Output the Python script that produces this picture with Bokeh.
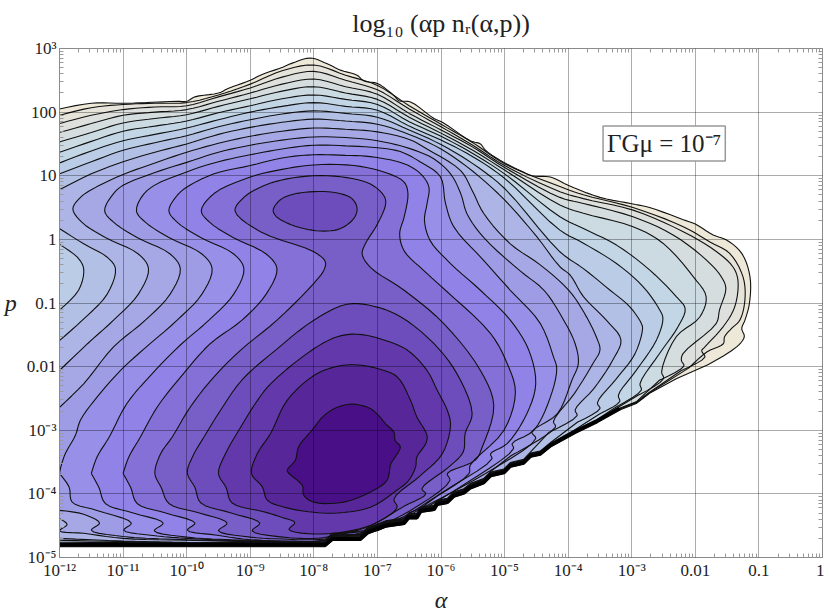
from bokeh.embed import file_html
from bokeh.models import FixedTicker, Label, LogAxis
from bokeh.plotting import figure
from bokeh.resources import INLINE

# Contours: pairs of (log10 alpha, log10 p)
C00 = [(-12,2.05),(-11.5,2.14),(-11,2.14),(-10.14,2.17),(-10,2.17),(-9.87,2.24),(-9.5,2.30),(-9.33,2.38),(-9,2.50),(-8.84,2.58),(-8.48,2.71),(-8.34,2.77),(-8.05,2.85),(-7.79,2.76),(-7.58,2.66),(-7.32,2.58),(-7.21,2.49),(-7,2.45),(-6.74,2.26),(-6.66,2.18),(-6.48,2.16),(-6.11,1.90),(-5.96,1.83),(-5.54,1.55),(-5.38,1.50),(-5.30,1.40),(-5.01,1.21),(-4.75,1.08),(-4.57,1.0),(-4.28,.98),(-4,.85),(-3.5,.66),(-3,.56),(-2.72,.50),(-2.19,.31),(-2,.24),(-1.72,.07),(-1.51,-.01),(-1.27,-.22),(-1.14,-.59),(-1.15,-1.01),(-1.22,-1.27),(-1.27,-1.40),(-1.23,-1.53),(-1.35,-1.69),(-1.82,-1.98)]
C01 = [(-12,1.95),(-11.5,2.07),(-11,2.12),(-10.5,2.14),(-10,2.15),(-9.5,2.27),(-9,2.44),(-8.5,2.65),(-8,2.74),(-7.5,2.58),(-7,2.42),(-6.5,2.10),(-6,1.81),(-5.5,1.52),(-5,1.19),(-4.13,.83),(-3.76,.70),(-2.98,.50),(-2.19,.20),(-1.77,-.04),(-1.46,-.22),(-1.25,-.59),(-1.22,-.95),(-1.30,-1.27),(-1.43,-1.40),(-1.54,-1.53),(-1.56,-1.64),(-1.82,-1.77),(-2.1,-2.02)]
C02 = [(-12,1.82),(-11.5,1.95),(-11,2.04),(-10.5,2.08),(-10,2.10),(-9.5,2.24),(-9,2.38),(-8.5,2.55),(-8,2.64),(-7.5,2.50),(-7,2.35),(-6.5,2.05),(-6,1.77),(-5.5,1.48),(-5,1.16),(-4.13,.75),(-3.76,.64),(-2.98,.46),(-2.19,.12),(-1.67,-.19),(-1.41,-.43),(-1.33,-.64),(-1.38,-1.06),(-1.56,-1.37),(-1.85,-1.69),(-1.90,-1.75),(-1.85,-1.85),(-2.22,-2.06)]
C03 = [(-12,1.68),(-11.5,1.82),(-11,1.95),(-10.5,2.0),(-10,2.04),(-9.5,2.17),(-9,2.30),(-8.5,2.44),(-8,2.52),(-7.5,2.40),(-7,2.28),(-6.5,1.98),(-6,1.72),(-5.5,1.45),(-5,1.13),(-4.13,.66),(-3.76,.565),(-2.98,.355),(-2.35,.07),(-1.82,-.33),(-1.59,-.59),(-1.52,-.77),(-1.62,-1.11),(-1.67,-1.32),(-2.19,-1.79),(-2.22,-1.90),(-2.18,-1.99),(-2.56,-2.21)]
C04 = [(-12,1.53),(-11.5,1.68),(-11,1.83),(-10.5,1.90),(-10,1.96),(-9.5,2.09),(-9,2.21),(-8.5,2.33),(-8,2.40),(-7.5,2.30),(-7,2.20),(-6.5,1.92),(-6,1.67),(-5.5,1.40),(-5,1.09),(-4.13,.54),(-3.76,.41),(-2.98,.20),(-2.51,-.06),(-2.03,-.59),(-1.83,-.90),(-1.93,-1.22),(-2.30,-1.53),(-2.53,-2.08),(-2.50,-2.19),(-2.90,-2.45)]
C05 = [(-12,1.37),(-11.5,1.54),(-11,1.70),(-10.5,1.78),(-10,1.86),(-9.5,1.99),(-9,2.10),(-8.5,2.21),(-8,2.27),(-7.5,2.20),(-7,2.12),(-6.5,1.85),(-6,1.62),(-5.5,1.35),(-5,1.03),(-4.13,.355),(-3.76,.17),(-3.24,-.09),(-2.72,-.48),(-2.30,-.90),(-2.16,-1.09),(-2.27,-1.37),(-2.56,-1.79),(-2.87,-2.27),(-2.85,-2.37),(-3.24,-2.63)]
C06 = [(-12,1.20),(-11.5,1.39),(-11,1.55),(-10.5,1.65),(-10,1.75),(-9.5,1.88),(-9,2.0),(-8.5,2.09),(-8,2.15),(-7.5,2.09),(-7,2.03),(-6.5,1.78),(-6,1.56),(-5.5,1.30),(-5,.96),(-4.13,.145),(-3.76,-.06),(-3.24,-.38),(-2.82,-.745),(-2.56,-1.11),(-2.51,-1.24),(-2.61,-1.58),(-2.93,-2.06),(-3.21,-2.45),(-3.19,-2.55),(-3.5,-2.74)]
C07 = [(-12,1.03),(-11.5,1.22),(-11,1.40),(-10.5,1.52),(-10,1.63),(-9.5,1.77),(-9,1.88),(-8.5,1.97),(-8,2.02),(-7.5,1.98),(-7,1.92),(-6.5,1.72),(-6,1.49),(-5.5,1.19),(-5,.80),(-4.13,-.195),(-3.76,-.46),(-3.34,-.80),(-3.03,-1.06),(-2.85,-1.32),(-2.83,-1.40),(-2.95,-1.8),(-3.25,-2.2),(-3.54,-2.57),(-3.5,-2.66),(-3.85,-2.87)]
C08 = [(-12,.78),(-11.5,1.03),(-11,1.22),(-10.5,1.37),(-10,1.50),(-9.5,1.65),(-9,1.76),(-8.5,1.84),(-8,1.89),(-7.5,1.86),(-7,1.81),(-6.5,1.65),(-6,1.42),(-5.5,1.07),(-5,.62),(-4.5,.05),(-4.13,-.43),(-3.97,-.56),(-3.76,-.9),(-3.40,-1.27),(-3.17,-1.58),(-3.3,-1.9),(-3.6,-2.35),(-3.89,-2.68),(-3.86,-2.77),(-4.3,-3.03)]
C09 = [(-12,-2.06),(-11.56,-1.64),(-11.15,-1.27),(-10.76,-.86),(-10.60,-.46),(-10.76,-.23),(-11.28,.03),(-11.65,.27),(-11.79,.48),(-11.67,.66),(-11.5,.78),(-11,1.02),(-10.5,1.2),(-10,1.37),(-9.5,1.51),(-9,1.62),(-8.5,1.70),(-8,1.75),(-7.5,1.73),(-7,1.69),(-6.5,1.57),(-6.22,1.42),(-5.69,1.08),(-5.51,.77),(-5.33,.41),(-4.91,-.07),(-4.44,-.40),(-3.99,-.80),(-3.75,-1.15),(-3.55,-1.55),(-3.50,-1.74),(-3.61,-1.95),(-3.9,-2.42),(-4.23,-2.86),(-4.2,-2.95),(-4.9,-3.4)]
C10 = [(-12,-2.64),(-11.62,-2.27),(-11.15,-1.69),(-10.65,-1.27),(-10.26,-.86),(-10.10,-.46),(-10.26,-.23),(-10.78,.03),(-11.15,.27),(-11.29,.45),(-11.15,.72),(-11,.85),(-10.5,1.05),(-10,1.21),(-9.5,1.37),(-9,1.48),(-8.5,1.56),(-8,1.61),(-7.5,1.60),(-7,1.55),(-6.5,1.43),(-6.12,1.27),(-5.85,1.03),(-5.69,.72),(-5.59,.40),(-5.33,.03),(-4.75,-.50),(-4.38,-.80),(-4.07,-1.27),(-3.89,-1.64),(-3.84,-1.95),(-3.94,-2.21),(-4.17,-2.74),(-4.57,-3.03),(-4.51,-3.13),(-5.3,-3.68),(-6.2,-4.17)]
C11 = [(-12,-3.68),(-11.98,-3.58),(-11.91,-3.37),(-11.75,-3.08),(-11.67,-2.84),(-11.41,-2.48),(-11.04,-2.06),(-10.67,-1.72),(-10.15,-1.27),(-9.76,-.86),(-9.60,-.46),(-9.76,-.23),(-10.28,.03),(-10.65,.27),(-10.79,.45),(-10.62,.77),(-10,1.06),(-9.5,1.22),(-9,1.33),(-8.5,1.42),(-8,1.48),(-7.5,1.47),(-7,1.44),(-6.64,1.38),(-6.33,1.22),(-6.01,.985),(-5.93,.57),(-5.80,.20),(-5.33,-.33),(-4.91,-.80),(-4.44,-1.32),(-4.23,-1.85),(-4.18,-2.03),(-4.28,-2.48),(-4.54,-3.0),(-4.88,-3.21),(-4.86,-3.29),(-5.6,-3.83),(-6.48,-4.36)]
C12 = [(-11.5,-3.68),(-11.41,-3.42),(-11.22,-3.11),(-10.94,-2.58),(-10.57,-2.14),(-10.10,-1.66),(-9.65,-1.27),(-9.26,-.86),(-9.10,-.46),(-9.26,-.23),(-9.78,.03),(-10.15,.27),(-10.28,.45),(-10.15,.69),(-10,.82),(-9.57,1.03),(-9,1.16),(-8.5,1.28),(-8,1.33),(-7.5,1.32),(-7.11,1.30),(-6.58,1.19),(-6.32,1.03),(-6.19,.82),(-6.22,.56),(-6.26,.30),(-6.17,-.02),(-5.85,-.38),(-5.38,-.80),(-4.91,-1.27),(-4.62,-1.74),(-4.51,-2.27),(-4.65,-2.74),(-4.96,-3.21),(-5.22,-3.37),(-5.20,-3.45),(-6,-3.99),(-6.48,-4.33),(-7,-4.58)]
C13 = [(-11,-3.68),(-10.91,-3.42),(-10.73,-3.11),(-10.46,-2.63),(-10.05,-2.11),(-9.63,-1.64),(-9.13,-1.27),(-8.75,-.86),(-8.58,-.46),(-8.75,-.23),(-9.27,.03),(-9.64,.27),(-9.77,.45),(-9.57,.72),(-9,.98),(-8.5,1.10),(-8,1.17),(-7.37,1.16),(-6.90,1.06),(-6.58,.90),(-6.52,.72),(-6.58,.35),(-6.65,.09),(-6.58,-.18),(-6.27,-.49),(-5.93,-.80),(-5.22,-1.48),(-4.96,-1.95),(-4.83,-2.40),(-5.01,-3.0),(-5.54,-3.55),(-5.56,-3.68),(-6.2,-4.12),(-6.48,-4.30),(-7,-4.56)]
C14 = [(-10.50,-3.68),(-10.41,-3.37),(-10.23,-3.11),(-9.94,-2.63),(-9.57,-2.16),(-9.15,-1.74),(-8.58,-1.27),(-8,-.69),(-7.84,-.48),(-7.82,-.35),(-8,-.195),(-8.84,.12),(-9.24,.45),(-9.10,.66),(-8.84,.82),(-8.52,.93),(-8,1.0),(-7.48,.97),(-7.11,.87),(-6.90,.69),(-6.87,.56),(-7,.24),(-7.19,-.07),(-7.24,-.23),(-7.11,-.44),(-6.58,-.80),(-5.96,-1.32),(-5.38,-2.06),(-5.17,-2.61),(-5.35,-3.26),(-5.46,-3.47),(-5.90,-3.68),(-5.86,-3.79),(-6.48,-4.26),(-7.11,-4.56),(-7.5,-4.67),(-8,-4.72),(-8.5,-4.71),(-9,-4.68),(-9.50,-4.58),(-9.365,-4.46),(-9.8,-4.30),(-10.28,-4.15),(-10.40,-3.9),(-10.50,-3.68)]
C15 = [(-9.99,-3.67),(-9.90,-3.40),(-9.73,-3.11),(-9.47,-2.69),(-9.13,-2.21),(-8.60,-1.74),(-8,-1.27),(-7.48,-1.02),(-7.06,-1.05),(-6.63,-1.22),(-6.11,-1.64),(-5.75,-2.11),(-5.51,-2.74),(-5.62,-3.05),(-5.65,-3.34),(-5.88,-3.58),(-6.30,-3.92),(-6.24,-4.0),(-6.59,-4.20),(-7.11,-4.50),(-7.5,-4.62),(-7.8,-4.68),(-8,-4.70),(-8.48,-4.68),(-8.97,-4.58),(-8.85,-4.46),(-9.3,-4.30),(-9.78,-4.14),(-9.87,-3.9),(-9.99,-3.67)]
C15_RING = [(-8.64,.46),(-8.53,.62),(-8.32,.71),(-8,.75),(-7.63,.73),(-7.40,.64),(-7.32,.49),(-7.37,.33),(-7.58,.17),(-7.84,.13),(-8.16,.17),(-8.47,.28),(-8.60,.37),(-8.64,.46)]
C16 = [(-9.50,-3.68),(-9.39,-3.37),(-9.18,-3.0),(-8.92,-2.58),(-8.68,-2.27),(-8,-1.72),(-7.63,-1.53),(-7.32,-1.49),(-6.90,-1.58),(-6.53,-1.74),(-6.22,-2.06),(-6.06,-2.37),(-5.90,-2.69),(-5.85,-2.92),(-5.98,-3.37),(-6.32,-3.71),(-6.74,-4.08),(-6.69,-4.21),(-6.95,-4.42),(-7.37,-4.57),(-8,-4.63),(-8.39,-4.56),(-8.30,-4.45),(-8.5,-4.37),(-8.79,-4.28),(-9.29,-4.14),(-9.38,-3.9),(-9.50,-3.68)]
C17 = [(-8.98,-3.68),(-8.89,-3.37),(-8.68,-3.05),(-8.42,-2.53),(-8,-2.14),(-7.69,-2.01),(-7.37,-1.97),(-7,-2.03),(-6.69,-2.16),(-6.48,-2.53),(-6.38,-2.79),(-6.22,-3.08),(-6.24,-3.21),(-6.38,-3.42),(-6.40,-3.58),(-6.51,-3.79),(-6.69,-3.94),(-7.11,-4.21),(-7.63,-4.30),(-8,-4.29),(-8.42,-4.22),(-8.73,-4.10),(-8.81,-3.89),(-8.98,-3.68)]
C18 = [(-8.42,-3.63),(-8.29,-3.47),(-8.24,-3.26),(-8.03,-3.0),(-7.84,-2.77),(-7.61,-2.63),(-7.37,-2.59),(-7.11,-2.66),(-6.98,-2.77),(-6.87,-2.90),(-6.74,-3.03),(-6.72,-3.16),(-6.64,-3.26),(-6.72,-3.42),(-6.79,-3.53),(-6.85,-3.79),(-7.11,-3.97),(-7.53,-4.13),(-8,-4.13),(-8.16,-4.02),(-8.18,-3.87),(-8.39,-3.68),(-8.42,-3.63)]

# Lower arms, from right to left
ARM00 = [(-7.82,-4.83),(-12,-4.83)]
ARM01 = [(-7.82,-4.82),(-12,-4.82)]
ARM02 = [(-7.82,-4.81),(-12,-4.81)]
ARM03 = [(-7.82,-4.80),(-12,-4.80)]
ARM04 = [(-7.82,-4.79),(-12,-4.79)]
ARM05 = [(-7.82,-4.78),(-12,-4.78)]
ARM06 = [(-7.82,-4.78),(-10,-4.77),(-12,-4.76)]
ARM07 = [(-7.82,-4.78),(-10,-4.77),(-11,-4.75),(-12,-4.73)]
ARM08 = [(-7.82,-4.77),(-10,-4.76),(-11,-4.74),(-12,-4.70)]
ARM09 = [(-7.85,-4.77),(-10,-4.73),(-11,-4.70),(-11.62,-4.62),(-12,-4.58),(-11.88,-4.48),(-12,-4.39)]
ARM10 = [(-7.9,-4.77),(-9.99,-4.72),(-11,-4.67),(-11.50,-4.57),(-11.37,-4.46),(-11.62,-4.32),(-12,-4.26)]
ARM11 = [(-8,-4.76),(-9,-4.74),(-9.99,-4.70),(-10.57,-4.65),(-10.99,-4.57),(-10.87,-4.46),(-11.41,-4.26),(-11.80,-4.13),(-11.85,-3.89),(-12,-3.68)]
ARM12 = [(-8,-4.75),(-9.3,-4.72),(-9.99,-4.68),(-10.51,-4.58),(-10.37,-4.46),(-10.84,-4.30),(-11.28,-4.15),(-11.38,-3.9),(-11.5,-3.68)]
ARM13 = [(-8,-4.75),(-9,-4.72),(-9.52,-4.65),(-9.99,-4.57),(-9.87,-4.46),(-10.33,-4.30),(-10.78,-4.15),(-10.88,-3.9),(-11,-3.68)]

# Pockets on the left edge, from lower to upper crossing
POCKET07 = [(-12,-1.11),(-11.70,-.80),(-11.62,-.46),(-11.72,-.28),(-12,-.08)]
POCKET08 = [(-12,-1.59),(-11.64,-1.27),(-11.25,-.86),(-11.12,-.46),(-11.25,-.28),(-11.62,-.07),(-12,.17)]

# Lower outer edge of the contours
STAIR = [(-2.03,-2.06),(-2.30,-2.19),(-2.72,-2.42),(-2.93,-2.58),(-3.19,-2.68),(-3.55,-2.88),(-3.9,-3.05),(-4.28,-3.26),(-4.44,-3.39),(-4.59,-3.42),(-4.70,-3.53),(-4.91,-3.58),(-5.01,-3.68),(-5.22,-3.73),(-5.33,-3.84),(-5.54,-3.92),(-5.64,-4.0),(-5.80,-4.05),(-5.90,-4.15),(-6.06,-4.18),(-6.11,-4.26),(-6.32,-4.29),(-6.38,-4.39),(-6.51,-4.39),(-6.58,-4.48),(-6.87,-4.52),(-7.16,-4.63),(-7.27,-4.73),(-7.71,-4.73),(-7.82,-4.83)]
LIFT = [0,.009,.018,.027,.036,.045,.054,.063,.072,.081,.09,.095,.10,.105]
BAND_EDGE = [(-3.19,-2.66),(-3.55,-2.86),(-3.9,-3.03),(-4.28,-3.24),(-4.44,-3.37),(-4.59,-3.40),(-4.70,-3.51),(-4.91,-3.56),(-5.01,-3.66),(-5.22,-3.71),(-5.33,-3.82),(-5.54,-3.90),(-5.64,-3.98),(-5.80,-4.03),(-5.90,-4.13),(-6.06,-4.16),(-6.11,-4.24),(-6.32,-4.27),(-6.38,-4.37),(-6.51,-4.37),(-6.58,-4.46),(-6.87,-4.50),(-7.16,-4.61),(-7.27,-4.71),(-7.71,-4.71),(-7.82,-4.80),(-12,-4.80)]

BAND_COLORS = ["#EDE8D8","#E5E3DA","#DDE0DC","#D5DDDF","#CCDBE2","#C2D6E6","#BACCE6","#B3C0E6","#ADB5E6","#A6A8E6","#9F9CE6","#9890E8","#9082E6","#8570D8","#785FC8","#6D4DBB","#6238AA","#57279A","#480F87"]

X_EXPONENTS = [-12,-11,-10,-9,-8,-7,-6,-5,-4,-3,-2,-1,0]
X_LABELS = ["10⁻¹²","10⁻¹¹","10⁻¹⁰","10⁻⁹","10⁻⁸","10⁻⁷","10⁻⁶","10⁻⁵","10⁻⁴","10⁻³","0.01","0.1","1"]
Y_EXPONENTS = [-5,-4,-3,-2,-1,0,1,2,3]
Y_LABELS = ["10⁻⁵","10⁻⁴","10⁻³","0.01","0.1","1","10","100","10³"]
TITLE = "log₁₀ (αp nᵣ(α,p))"
NOTE = "ΓGμ = 10⁻⁷"
FONT = "Liberation Serif"


def spline(pts, closed=False, steps=5):
    """Centripetal Catmull-Rom curve that passes through every traced point."""
    if closed:
        body = pts[:-1]
        ctrl = [body[-1]] + body + [body[0], body[1]]
    else:
        ctrl = [pts[0]] + list(pts) + [pts[-1]]
    out = [ctrl[1]]
    for i in range(1, len(ctrl) - 2):
        p0, p1, p2, p3 = ctrl[i-1], ctrl[i], ctrl[i+1], ctrl[i+2]
        def knot(a, b):
            return max(((a[0]-b[0])**2 + (a[1]-b[1])**2)**.25, 1e-4)
        t0 = 0.0
        t1 = t0 + knot(p0, p1)
        t2 = t1 + knot(p1, p2)
        t3 = t2 + knot(p2, p3)
        for s in range(1, steps + 1):
            t = t1 + (t2 - t1)*s/steps
            def mix(a, b, ta, tb):
                return tuple(((tb-t)*u + (t-ta)*v)/(tb-ta) for u, v in zip(a, b))
            a1 = mix(p0, p1, t0, t1)
            a2 = mix(p1, p2, t1, t2)
            a3 = mix(p2, p3, t2, t3)
            b1 = mix(a1, a2, t0, t2)
            b2 = mix(a2, a3, t1, t3)
            out.append(mix(b1, b2, t1, t2))
    return out


def xy(pts):
    return [10.0**a for a, _ in pts], [10.0**b for _, b in pts]


def with_stair(path, arm, lift):
    end = path[-1][0] - .3
    start = arm[0][0] + .05
    run = [(a, b+lift) for a, b in STAIR if start < a < end]
    return spline(path) + run + spline(arm)


OPEN = [(C00,ARM00),(C01,ARM01),(C02,ARM02),(C03,ARM03),(C04,ARM04),(C05,ARM05),(C06,ARM06),(C07,ARM07),(C08,ARM08),(C09,ARM09),(C10,ARM10),(C11,ARM11),(C12,ARM12),(C13,ARM13)]
POCKETS = {7: POCKET07, 8: POCKET08}
CLOSED = {14: [C14], 15: [C15, C15_RING], 16: [C16], 17: [C17], 18: [C18]}

p = figure(frame_width=763, frame_height=509, x_axis_type="log", y_axis_type="log",
           x_range=(1e-12, 1), y_range=(1e-5, 1e3), toolbar_location=None, output_backend="svg",
           min_border_left=59, min_border_right=2, min_border_top=48, min_border_bottom=50,
           background_fill_color="white", outline_line_color="#8a8a8a")

lines = []
for k, (path, arm) in enumerate(OPEN):
    whole = with_stair(path, arm, LIFT[k])
    polygon = whole
    if k in POCKETS:
        pocket = spline(POCKETS[k])
        polygon = whole + pocket
        lines.append(pocket)
    p.patch(*xy(polygon), fill_color=BAND_COLORS[k], line_color=None)
    lines.append(whole)
for k, paths in CLOSED.items():
    for path in paths:
        smooth = spline(path, closed=True)
        p.patch(*xy(smooth), fill_color=BAND_COLORS[k], line_color=None)
        lines.append(smooth)
for line in lines:
    p.line(*xy(line), line_color="#111111", line_width=1.1)
p.line(*xy(BAND_EDGE), line_color="#000000", line_width=4)

x_ticks = [10.0**e for e in X_EXPONENTS]
y_ticks = [10.0**e for e in Y_EXPONENTS]
x_minor = [m*10.0**e for e in X_EXPONENTS[:-1] for m in range(2, 10)]
y_minor = [m*10.0**e for e in Y_EXPONENTS[:-1] for m in range(2, 10)]

for axis, ticks, minor, labels in [(p.xaxis[0], x_ticks, x_minor, X_LABELS), (p.yaxis[0], y_ticks, y_minor, Y_LABELS)]:
    axis.ticker = FixedTicker(ticks=ticks, minor_ticks=minor)
    axis.major_label_overrides = {t: s for t, s in zip(ticks, labels)}
    axis.major_label_text_font = FONT
    axis.major_label_text_font_size = "17px"
    axis.major_label_text_color = "#222222"
    axis.major_label_standoff = 3
    axis.axis_line_color = "#8a8a8a"
    axis.major_tick_line_color = "#8a8a8a"
    axis.minor_tick_line_color = "#9a9a9a"
    axis.major_tick_in = 0
    axis.major_tick_out = 0
    axis.minor_tick_in = 4
    axis.minor_tick_out = 0

p.xaxis[0].axis_label = "α"
p.yaxis[0].axis_label = "p"
for axis in (p.xaxis[0], p.yaxis[0]):
    axis.axis_label_text_font = FONT
    axis.axis_label_text_font_style = "italic"
    axis.axis_label_text_font_size = "24px"
    axis.axis_label_text_color = "#222222"
p.xaxis[0].axis_label_standoff = 4
p.yaxis[0].axis_label_standoff = 7
p.yaxis[0].axis_label_orientation = "horizontal"

top = LogAxis(ticker=FixedTicker(ticks=x_ticks, minor_ticks=x_minor), major_label_text_font_size="0px",
              major_label_standoff=0, major_tick_in=0, major_tick_out=0, minor_tick_in=4, minor_tick_out=0,
              axis_line_color="#8a8a8a", minor_tick_line_color="#9a9a9a",
              major_label_overrides={t: "" for t in x_ticks})
right = LogAxis(ticker=FixedTicker(ticks=y_ticks, minor_ticks=y_minor), major_label_text_font_size="0px",
                major_label_standoff=0, major_tick_in=0, major_tick_out=0, minor_tick_in=4, minor_tick_out=0,
                axis_line_color="#8a8a8a", minor_tick_line_color="#9a9a9a",
                major_label_overrides={t: "" for t in y_ticks})
p.add_layout(top, "above")
p.add_layout(right, "right")

p.xgrid.ticker = FixedTicker(ticks=x_ticks)
p.ygrid.ticker = FixedTicker(ticks=y_ticks)
for g in (p.xgrid[0], p.ygrid[0]):
    g.level = "annotation"
    g.grid_line_color = "#000000"
    g.grid_line_alpha = 0.33
    g.grid_line_width = 1

p.title.text = TITLE
p.title.align = "center"
p.title.text_font = FONT
p.title.text_font_style = "normal"
p.title.text_font_size = "26px"
p.title.text_color = "#222222"
p.title.vertical_align = "top"
p.title.standoff = 17

p.add_layout(Label(x=10.0**-2.49, y=10.0**1.506, text=NOTE, text_font=FONT, text_font_style="normal",
                   text_font_size="25px", text_color="#222222", text_align="center", text_baseline="middle",
                   background_fill_color="white", border_line_color="#999999", border_line_width=1.5,
                   padding=4, level="overlay"))

open("out.html", "w").write(file_html(p, INLINE))
